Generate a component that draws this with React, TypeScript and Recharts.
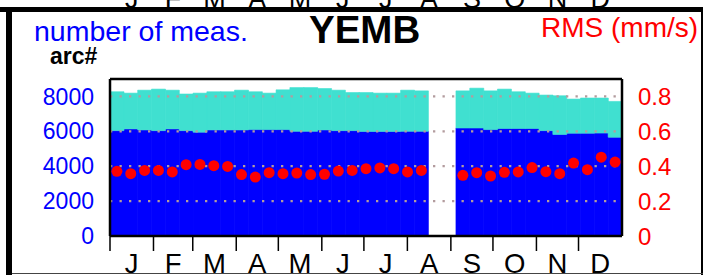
import {
  ComposedChart,
  Bar,
  Line,
  XAxis,
  YAxis,
  ReferenceLine,
} from 'recharts'

// 37 equal bins over the year (~9.86 days each); bins 23-24 (late Aug) have no data
const BIN_COUNT = 37

const totalMeas = [
  8270, 8190, 8360, 8420, 8360, 8140, 8190, 8270, 8270, 8360,
  8270, 8190, 8380, 8510, 8510, 8455, 8360, 8225, 8225, 8190,
  8190, 8360, 8320, null, null, 8320, 8475, 8320, 8420, 8270,
  8190, 8080, 8040, 7850, 7910, 7910, 7715,
]

const usedMeas = [
  6040, 6140, 6080, 6040, 6140, 6040, 5950, 6080, 6080, 6080,
  6100, 6100, 6100, 6000, 6000, 6080, 6040, 6040, 5990, 5990,
  5990, 6000, 6000, null, null, 6190, 6190, 6100, 6160, 6160,
  6160, 6040, 5820, 5890, 5890, 5900, 5660,
]

const rmsValues = [
  0.371, 0.357, 0.376, 0.376, 0.367, 0.409, 0.41, 0.403, 0.399, 0.352,
  0.338, 0.363, 0.357, 0.361, 0.352, 0.354, 0.372, 0.376, 0.386, 0.39,
  0.386, 0.367, 0.376, null, null, 0.348, 0.363, 0.344, 0.365, 0.367,
  0.392, 0.369, 0.357, 0.418, 0.38, 0.452, 0.424,
]

const months = ['J', 'F', 'M', 'A', 'M', 'J', 'J', 'A', 'S', 'O', 'N', 'D']
const monthStartDays = [0, 31, 59, 90, 120, 151, 181, 212, 243, 273, 304, 334]
const monthMidDays = [15.5, 45, 74.5, 105, 135.5, 166, 196.5, 227.5, 258, 288.5, 319, 349.5]

const countTicks = [0, 2000, 4000, 6000, 8000]
const rmsTicks = [0, 0.2, 0.4, 0.6, 0.8]

const data = totalMeas.map((total, i) => ({
  day: ((i + 0.5) * 365) / BIN_COUNT,
  used: usedMeas[i],
  extra: total == null || usedMeas[i] == null ? null : total - (usedMeas[i] as number),
  rms: rmsValues[i],
}))

const W = 703
const H = 275
const PLOT_LEFT = 110
const PLOT_RIGHT = 622
const FONT = '"Liberation Sans", Arial, Helvetica, sans-serif'
// near-zero height: both month axes then sit on the plot's bottom edge
const THIN = 0.01

export default function App() {
  const dayToX = (d: number) => PLOT_LEFT + (d * (PLOT_RIGHT - PLOT_LEFT)) / 365

  return (
    <div
      style={{
        position: 'absolute',
        left: 0,
        top: 0,
        width: W,
        height: H,
        background: '#fff',
        overflow: 'hidden',
        fontFamily: FONT,
      }}
    >
      <ComposedChart
        width={W}
        height={H}
        data={data}
        margin={{ top: 79, right: 0, bottom: 39 - 2 * THIN, left: 0 }}
        barCategoryGap={0}
        barGap={0}
        style={{ position: 'absolute', left: 0, top: 0 }}
      >
        <XAxis
          xAxisId="tick"
          dataKey="day"
          type="number"
          domain={[0, 365]}
          allowDataOverflow
          ticks={monthStartDays}
          interval={0}
          tickFormatter={() => ''}
          tickSize={15}
          height={THIN}
          axisLine={{ stroke: '#000', strokeWidth: 2.5 }}
          tickLine={{ stroke: '#000', strokeWidth: 1.5 }}
        />
        <XAxis
          xAxisId="lbl"
          dataKey="day"
          type="number"
          domain={[0, 365]}
          allowDataOverflow
          ticks={monthMidDays}
          interval={0}
          tickFormatter={(v: number) => months[monthMidDays.indexOf(v)]}
          axisLine={false}
          tickLine={false}
          tickSize={0}
          tickMargin={17}
          height={THIN}
          tick={{ fill: '#000', fontSize: 27.5, fontFamily: FONT }}
        />
        <YAxis
          yAxisId="cnt"
          domain={[0, 9000]}
          allowDataOverflow
          ticks={countTicks}
          interval={0}
          width={110}
          tickLine={false}
          tickSize={0}
          tickMargin={16}
          axisLine={{ stroke: '#000', strokeWidth: 2.5 }}
          tick={{ fill: '#0000ff', fontSize: 23, fontFamily: FONT }}
        />
        <YAxis
          yAxisId="rms"
          orientation="right"
          domain={[0, 0.9]}
          allowDataOverflow
          ticks={rmsTicks}
          interval={0}
          width={81}
          tickLine={false}
          tickSize={0}
          tickMargin={16}
          tickFormatter={(v: number) => String(v)}
          axisLine={{ stroke: '#000', strokeWidth: 2.5 }}
          tick={{ fill: '#ff0000', fontSize: 24, fontFamily: FONT }}
        />
        <Bar
          xAxisId="tick"
          yAxisId="cnt"
          dataKey="used"
          stackId="m"
          fill="#0000ff"
          stroke="#0000ff"
          strokeWidth={0.6}
          isAnimationActive={false}
        />
        <Bar
          xAxisId="tick"
          yAxisId="cnt"
          dataKey="extra"
          stackId="m"
          fill="#40e0d0"
          stroke="#40e0d0"
          strokeWidth={0.6}
          isAnimationActive={false}
        />
        {countTicks.slice(1).map((v) => (
          <ReferenceLine
            key={v}
            xAxisId="tick"
            yAxisId="cnt"
            y={v}
            stroke="#b39c9e"
            strokeWidth={2.3}
            strokeDasharray="2.3 7.2"
          />
        ))}
        <ReferenceLine
          xAxisId="tick"
          yAxisId="cnt"
          y={9000}
          stroke="#000"
          strokeWidth={2.5}
        />
        <Line
          xAxisId="lbl"
          yAxisId="rms"
          dataKey="rms"
          stroke="none"
          dot={{ r: 5.5, fill: '#ff0000', stroke: 'none' }}
          activeDot={false}
          isAnimationActive={false}
        />
      </ComposedChart>

      <svg
        width={W}
        height={H}
        style={{ position: 'absolute', left: 0, top: 0, pointerEvents: 'none' }}
      >
        {/* bottom of the panel above, cut off */}
        {months.map((m, i) => (
          <text
            key={i}
            x={dayToX(monthMidDays[i])}
            y={8}
            textAnchor="middle"
            fontSize={27}
            fontFamily={FONT}
            fill="#000"
          >
            {m}
          </text>
        ))}
        <rect x={0} y={7} width={W} height={5} fill="#000" />
        <rect x={6} y={7} width={6} height={H - 7} fill="#000" />
        <rect x={701} y={7} width={2} height={H - 7} fill="#000" />
        <rect x={12} y={273} width={W - 12} height={1} fill="#444" />

        <text x={34} y={41} fontSize={28.5} fontFamily={FONT} fill="#0000ff">
          number of meas.
        </text>
        <text x={309} y={43} fontSize={38.5} fontWeight="bold" fontFamily={FONT} fill="#000">
          YEMB
        </text>
        <text x={541} y={37} fontSize={28} fontFamily={FONT} fill="#ff0000">
          RMS (mm/s)
        </text>
        <text x={50} y={64} fontSize={23} fontWeight="bold" fontFamily={FONT} fill="#000">
          arc#
        </text>
      </svg>
    </div>
  )
}
